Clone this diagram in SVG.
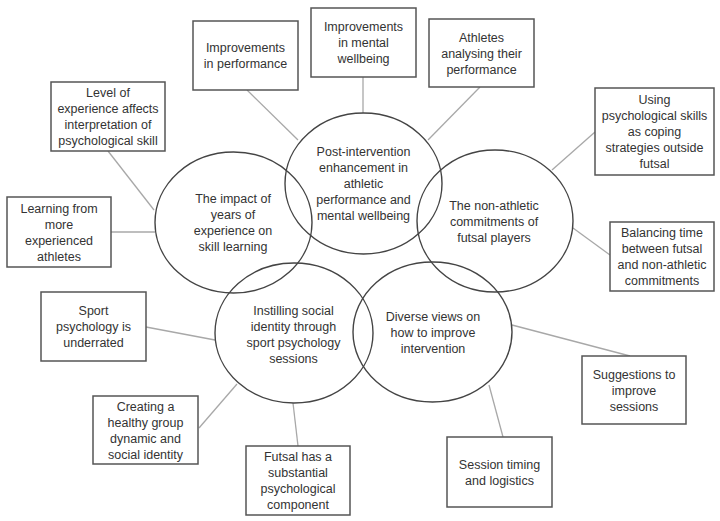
<svg xmlns="http://www.w3.org/2000/svg" width="720" height="521" viewBox="0 0 720 521">
<style>
.bg{fill:#ffffff}
.box rect{fill:#ffffff;stroke:#555555;stroke-width:1.5}
.theme ellipse{fill:none;stroke:#444444;stroke-width:1.4}
text{font-family:"Liberation Sans",Arial,sans-serif;font-size:12.5px;fill:#333333;text-anchor:middle}
.conn line{stroke:#a8a8a8;stroke-width:1.3}
</style>
<rect class="bg" x="0" y="0" width="720" height="521"/>
<g id="connectors" class="conn">
<line x1="247" y1="90" x2="298" y2="140"/>
<line x1="363" y1="77" x2="363" y2="113"/>
<line x1="480" y1="87" x2="428" y2="140"/>
<line x1="108" y1="151" x2="154" y2="210"/>
<line x1="111" y1="232" x2="155" y2="232"/>
<line x1="595" y1="132" x2="552" y2="170"/>
<line x1="573" y1="228" x2="610" y2="255"/>
<line x1="146" y1="327" x2="215" y2="340"/>
<line x1="199" y1="428" x2="237" y2="384"/>
<line x1="293" y1="403" x2="298" y2="446"/>
<line x1="512" y1="325" x2="630" y2="356"/>
<line x1="489" y1="385" x2="503" y2="437"/>
</g>
<g id="theme-post" class="theme">
<ellipse cx="363.5" cy="183.5" rx="78.5" ry="70.5"/>
<text x="363.5" y="156">Post-intervention</text>
<text x="363.5" y="172">enhancement in</text>
<text x="363.5" y="188">athletic</text>
<text x="363.5" y="204">performance and</text>
<text x="363.5" y="220">mental wellbeing</text>
</g>
<g id="theme-impact" class="theme">
<ellipse cx="233.5" cy="222.5" rx="78.5" ry="70.5"/>
<text x="233" y="203">The impact of</text>
<text x="233" y="219">years of</text>
<text x="233" y="235">experience on</text>
<text x="233" y="251">skill learning</text>
</g>
<g id="theme-nonathletic" class="theme">
<ellipse cx="495" cy="221" rx="78" ry="71"/>
<text x="494" y="209.5">The non-athletic</text>
<text x="494" y="225.5">commitments of</text>
<text x="494" y="241.5">futsal players</text>
</g>
<g id="theme-instilling" class="theme">
<ellipse cx="294" cy="333" rx="79" ry="70"/>
<text x="293.5" y="314.5">Instilling social</text>
<text x="293.5" y="330.5">identity through</text>
<text x="293.5" y="346.5">sport psychology</text>
<text x="293.5" y="362.5">sessions</text>
</g>
<g id="theme-diverse" class="theme">
<ellipse cx="432.5" cy="332" rx="79.5" ry="70"/>
<text x="433" y="320.5">Diverse views on</text>
<text x="433" y="336.5">how to improve</text>
<text x="433" y="352.5">intervention</text>
</g>
<g id="box-performance" class="box">
<rect x="193" y="21" width="105" height="69"/>
<text x="245.5" y="52">Improvements</text>
<text x="245.5" y="68">in performance</text>
</g>
<g id="box-mental" class="box">
<rect x="311" y="8" width="105" height="69"/>
<text x="363.5" y="31">Improvements</text>
<text x="363.5" y="47">in mental</text>
<text x="363.5" y="63">wellbeing</text>
</g>
<g id="box-athletes" class="box">
<rect x="429" y="19" width="105" height="68"/>
<text x="481.5" y="41.5">Athletes</text>
<text x="481.5" y="57.5">analysing their</text>
<text x="481.5" y="73.5">performance</text>
</g>
<g id="box-coping" class="box">
<rect x="595" y="88" width="119" height="87"/>
<text x="654.5" y="104">Using</text>
<text x="654.5" y="120">psychological skills</text>
<text x="654.5" y="136">as coping</text>
<text x="654.5" y="152">strategies outside</text>
<text x="654.5" y="168">futsal</text>
</g>
<g id="box-balancing" class="box">
<rect x="610" y="222" width="104" height="69"/>
<text x="662" y="237">Balancing time</text>
<text x="662" y="253">between futsal</text>
<text x="662" y="269">and non-athletic</text>
<text x="662" y="285">commitments</text>
</g>
<g id="box-suggestions" class="box">
<rect x="582" y="356" width="104" height="68"/>
<text x="634" y="378.5">Suggestions to</text>
<text x="634" y="394.5">improve</text>
<text x="634" y="410.5">sessions</text>
</g>
<g id="box-session" class="box">
<rect x="447" y="437" width="105" height="70"/>
<text x="499.5" y="468.5">Session timing</text>
<text x="499.5" y="484.5">and logistics</text>
</g>
<g id="box-futsal" class="box">
<rect x="246" y="446" width="104" height="69"/>
<text x="298" y="461">Futsal has a</text>
<text x="298" y="477">substantial</text>
<text x="298" y="493">psychological</text>
<text x="298" y="509">component</text>
</g>
<g id="box-creating" class="box">
<rect x="93" y="396" width="105" height="68"/>
<text x="145.5" y="410.5">Creating a</text>
<text x="145.5" y="426.5">healthy group</text>
<text x="145.5" y="442.5">dynamic and</text>
<text x="145.5" y="458.5">social identity</text>
</g>
<g id="box-sport" class="box">
<rect x="41" y="292" width="105" height="69"/>
<text x="93.5" y="315">Sport</text>
<text x="93.5" y="331">psychology is</text>
<text x="93.5" y="347">underrated</text>
</g>
<g id="box-learning" class="box">
<rect x="7" y="197" width="104" height="70"/>
<text x="59" y="212.5">Learning from</text>
<text x="59" y="228.5">more</text>
<text x="59" y="244.5">experienced</text>
<text x="59" y="260.5">athletes</text>
</g>
<g id="box-level" class="box">
<rect x="51" y="82" width="114" height="69"/>
<text x="108" y="97">Level of</text>
<text x="108" y="113">experience affects</text>
<text x="108" y="129">interpretation of</text>
<text x="108" y="145">psychological skill</text>
</g>
</svg>
